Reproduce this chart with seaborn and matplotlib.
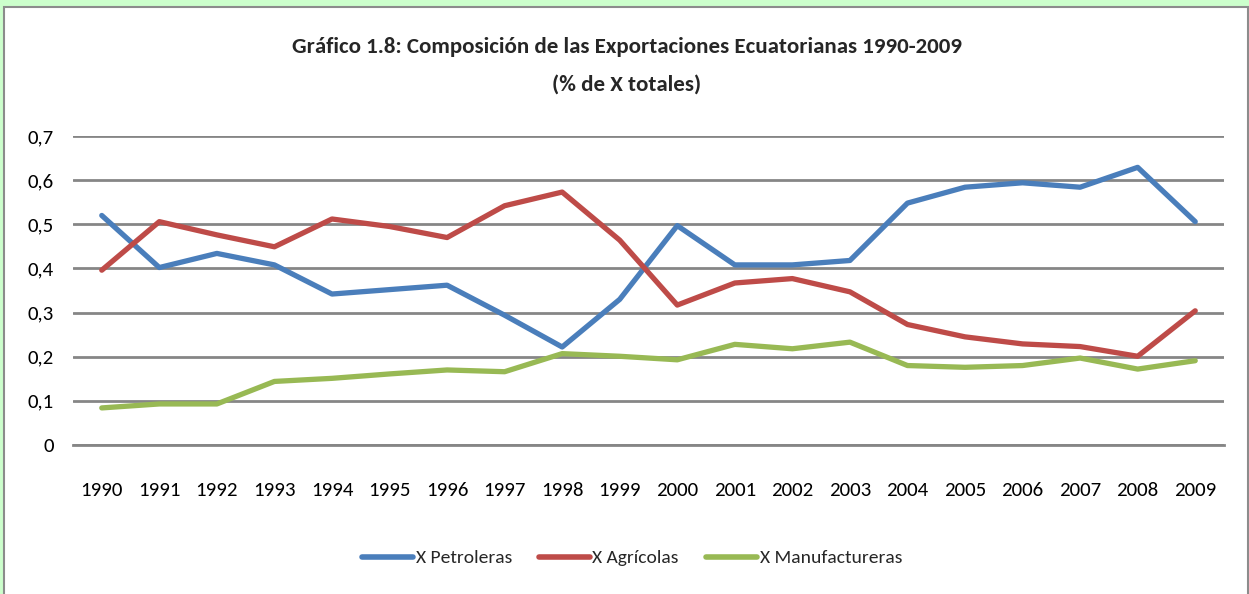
import matplotlib
matplotlib.use("Agg")
import matplotlib.pyplot as plt
import matplotlib.patches as mpatches
from matplotlib import font_manager
import pandas as pd
import seaborn as sns

# datos
anios = list(range(1990, 2010))
x_petroleras = [0.520, 0.402, 0.434, 0.408, 0.342, 0.352, 0.362, 0.294, 0.222, 0.330,
                0.497, 0.408, 0.408, 0.418, 0.548, 0.584, 0.594, 0.584, 0.629, 0.506]
x_agricolas = [0.396, 0.506, 0.476, 0.449, 0.512, 0.495, 0.470, 0.542, 0.573, 0.464,
               0.317, 0.367, 0.377, 0.347, 0.273, 0.245, 0.229, 0.223, 0.201, 0.304]
x_manufactureras = [0.084, 0.093, 0.093, 0.144, 0.151, 0.161, 0.170, 0.166, 0.207, 0.201,
                    0.193, 0.228, 0.218, 0.233, 0.180, 0.176, 0.180, 0.197, 0.172, 0.191]
series = ["X Petroleras", "X Agrícolas", "X Manufactureras"]
colores = ["#4A7EBB", "#BE4B48", "#98B954"]

df = pd.DataFrame({
    "anio": anios * 3,
    "valor": x_petroleras + x_agricolas + x_manufactureras,
    "serie": [s for s in series for _ in anios],
})

sns.set_style("white")
disponibles = {f.name for f in font_manager.fontManager.ttflist}
familias = [f for f in ["Carlito", "Liberation Sans Narrow", "Liberation Sans"] if f in disponibles]
plt.rcParams["font.family"] = familias + ["DejaVu Sans"]

fig = plt.figure(figsize=(12.49, 5.94), dpi=100, facecolor="#CCFFCC")
# marco blanco del gráfico
fig.patches.append(mpatches.Rectangle((4 / 1249, -0.01), 1244 / 1249, 1 - 7 / 594 + 0.01,
                                      transform=fig.transFigure, facecolor="white",
                                      edgecolor="#8C8C8C", linewidth=1.5, zorder=-5))

ax = fig.add_axes([73 / 1249, 1 - 445 / 594, (1224 - 73) / 1249, (445 - 136) / 594])
sns.lineplot(data=df, x="anio", y="valor", hue="serie", palette=colores,
             linewidth=3.8, ax=ax, legend=False)
for ln in ax.lines:
    ln.set_solid_joinstyle("round")
    ln.set_solid_capstyle("round")

ax.set_xlim(1989.5, 2009.5)
ax.set_ylim(0, 0.7)
ax.set_yticks([0, 0.1, 0.2, 0.3, 0.4, 0.5, 0.6, 0.7])
ax.set_yticklabels(["0", "0,1", "0,2", "0,3", "0,4", "0,5", "0,6", "0,7"])
ax.set_xticks(anios)
ax.set_xticklabels([str(a) for a in anios])
ax.tick_params(axis="both", length=0, labelsize=15, colors="black")
ax.tick_params(axis="y", pad=14)
ax.tick_params(axis="x", pad=27)
ax.grid(axis="y", color="#868686", linewidth=2)
ax.set_axisbelow(True)
for s in ["top", "right", "left"]:
    ax.spines[s].set_visible(False)
ax.spines["bottom"].set_color("#868686")
ax.spines["bottom"].set_linewidth(2)
ax.set_xlabel("")
ax.set_ylabel("")
ax.patch.set_alpha(0)

fig.text(627 / 1249, 1 - 47 / 594, "Gráfico 1.8: Composición de las Exportaciones Ecuatorianas 1990-2009",
         ha="center", va="center", fontsize=16.5, fontweight="bold")
fig.text(627 / 1249, 1 - 85 / 594, "(% de X totales)",
         ha="center", va="center", fontsize=16.5, fontweight="bold")

handles = [plt.Line2D([], [], color=c, linewidth=4, solid_capstyle="round") for c in colores]
fig.legend(handles, series, loc="center", bbox_to_anchor=(632 / 1249, 1 - 558 / 594),
           ncol=3, frameon=False, fontsize=14, handlelength=2.6, handletextpad=0.15,
           columnspacing=1.4)

fig.savefig("out.png", dpi=100, facecolor=fig.get_facecolor())
